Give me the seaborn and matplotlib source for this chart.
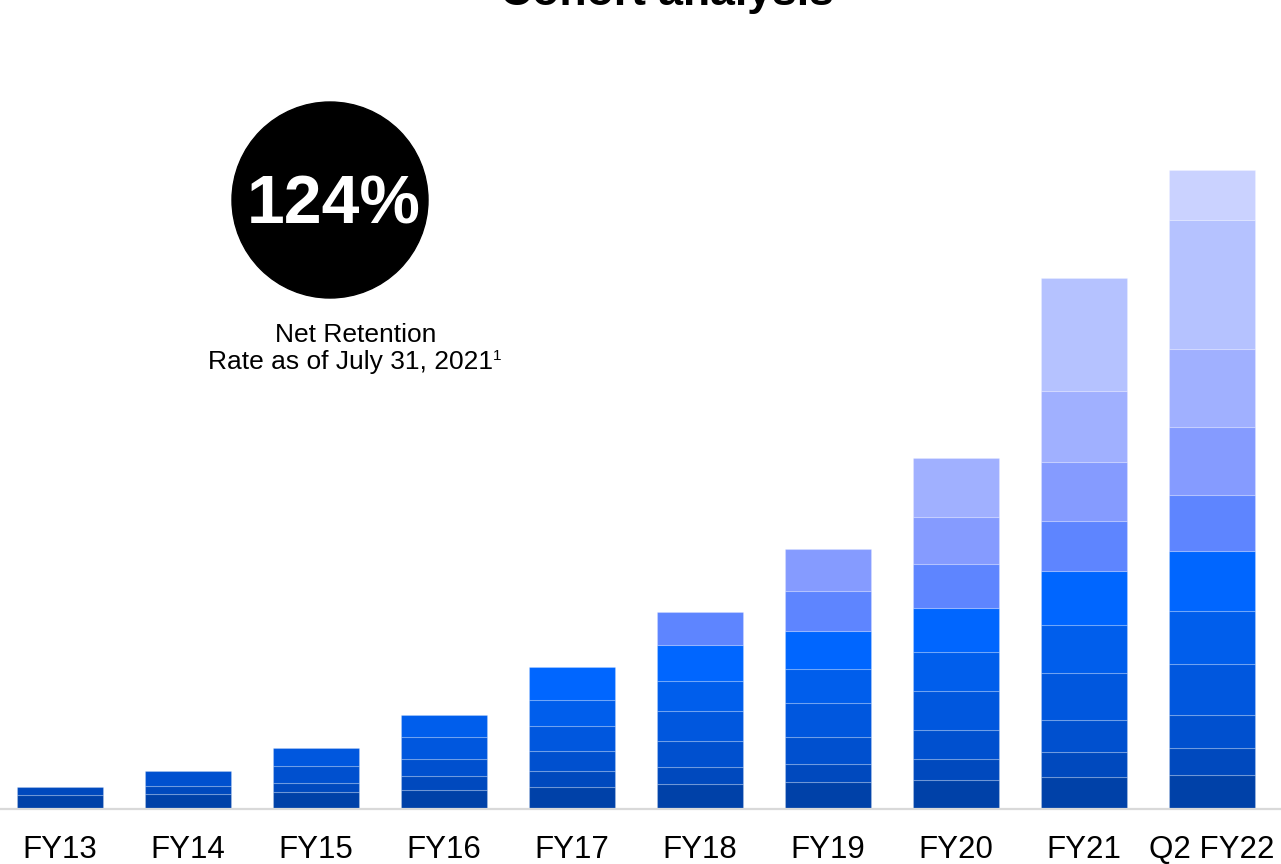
import pandas as pd
import seaborn as sns
import matplotlib.pyplot as plt
from matplotlib.patches import Ellipse

# Bar labels and stacked cohort segments (bottom = oldest cohort)
years = ['FY13', 'FY14', 'FY15', 'FY16', 'FY17', 'FY18', 'FY19', 'FY20', 'FY21', 'Q2 FY22']
fy13 = [14, 8]
fy14 = [15, 8, 15]
fy15 = [17, 9, 17, 18]
fy16 = [19, 14, 17, 22, 22]
fy17 = [22, 16, 20, 25, 26, 33]
fy18 = [25, 17, 26, 30, 30, 36, 33]
fy19 = [27, 18, 27, 34, 34, 38, 40, 42]
fy20 = [29, 21, 29, 39, 39, 44, 44, 47, 59]
fy21 = [32, 25, 32, 47, 48, 54, 50, 59, 71, 113]
q2fy22 = [34, 27, 33, 51, 53, 60, 56, 68, 78, 129, 50]

cohort_colors = ['#0041A8', '#0049BE', '#0050CF', '#0057DE', '#005EEC', '#0066FF',
                 '#5E85FF', '#859BFF', '#A0B0FF', '#B5C2FF', '#CAD2FF']

net_retention = '124%'

# long table: one row per segment
rows = []
for year, segs in zip(years, [fy13, fy14, fy15, fy16, fy17, fy18, fy19, fy20, fy21, q2fy22]):
    bottom = 0
    for i, v in enumerate(segs):
        rows.append({'year': year, 'cohort': i, 'value': v, 'bottom': bottom})
        bottom += v
df = pd.DataFrame(rows)

sns.set_style('white')
plt.rcParams['font.family'] = ['Liberation Sans', 'DejaVu Sans']
plt.rcParams['text.color'] = 'black'
plt.rcParams['xtick.color'] = 'black'

fig = plt.figure(figsize=(12.81, 8.64), dpi=100)
ax = fig.add_axes([0, 55 / 864, 1, 809 / 864])

for c in range(len(cohort_colors)):
    sub = df[df['cohort'] == c]
    sns.barplot(data=sub, x='year', y='value', order=years, bottom=sub['bottom'].values,
                color=cohort_colors[c], saturation=1, width=0.67,
                edgecolor=(1, 1, 1, 0.2), linewidth=0.8, ax=ax)

ax.set_xlim(-0.47, 9.54)
ax.set_ylim(0, 809)
ax.set_xlabel('')
ax.set_ylabel('')
ax.set_yticks([])
ax.tick_params(axis='x', length=0, pad=19, labelsize=22.5, labelcolor='black')
for s in ['top', 'left', 'right']:
    ax.spines[s].set_visible(False)
ax.spines['bottom'].set_color('#D9D9D9')
ax.spines['bottom'].set_linewidth(1.6)

# title (partly cut off at top in the original)
fig.text(0.521, 1 - 5.5 / 864, 'Cohort analysis', ha='center', va='baseline',
         fontsize=32, fontweight='bold', color='black')

# retention badge
fig.patches.append(Ellipse((330 / 1281, 1 - 200 / 864), 196 / 1281, 196 / 864,
                           transform=fig.transFigure, color='black'))
fig.text(334 / 1281, 1 - 223 / 864, net_retention, ha='center', va='baseline',
         color='white', fontsize=49, fontweight='bold')
fig.text(356 / 1281, 1 - 341.5 / 864, 'Net Retention', ha='center', va='baseline',
         fontsize=19, color='black')
fig.text(350 / 1281, 1 - 369 / 864, 'Rate as of July 31, 2021', ha='center', va='baseline',
         fontsize=19, color='black')
fig.text(493 / 1281, 1 - 360 / 864, '1', ha='left', va='baseline', fontsize=11, color='black')

fig.savefig('out.png', dpi=100)
